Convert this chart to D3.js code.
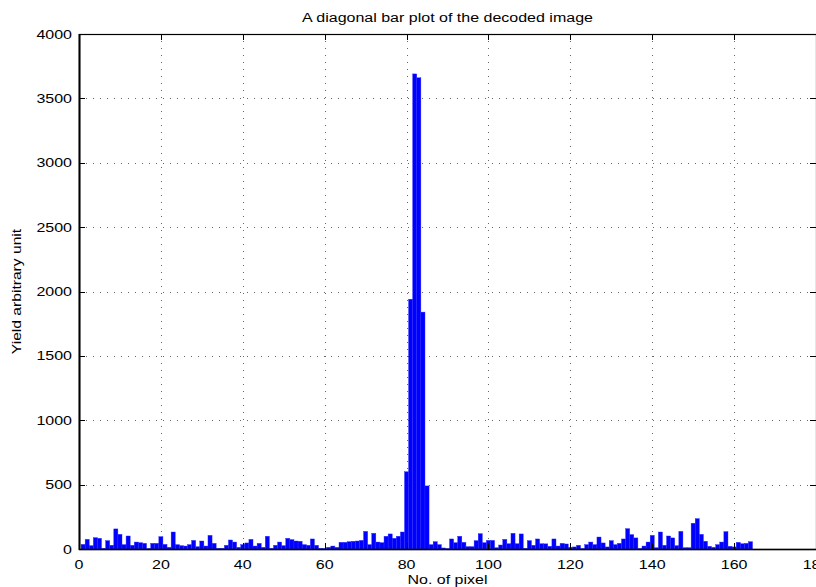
<!DOCTYPE html>
<html>
<head>
<meta charset="utf-8">
<script src="https://cdn.jsdelivr.net/npm/d3@7"></script>
<style>
  html, body { margin: 0; padding: 0; background: #fff; }
  svg { display: block; }
  text { font-family: "Liberation Sans", Arial, Helvetica, sans-serif; fill: #000; }
</style>
</head>
<body>
<svg id="chart" width="816" height="587"></svg>
<script>
// ---- data ----
const titleText = "A diagonal bar plot of the decoded image";
const xLabelText = "No. of pixel";
const yLabelText = "Yield arbitrary unit";
const xTicks = [0, 20, 40, 60, 80, 100, 120, 140, 160, 180];
const yTicks = [0, 500, 1000, 1500, 2000, 2500, 3000, 3500, 4000];
const yields = [
  36, 75, 26, 88, 83, 5, 65, 29, 156, 114,
  34, 101, 29, 54, 49, 44, 3, 44, 44, 96,
  36, 13, 132, 34, 26, 23, 34, 67, 18, 62,
  23, 106, 44, 5, 5, 29, 70, 54, 13, 34,
  47, 75, 23, 44, 13, 99, 5, 29, 54, 26,
  83, 73, 62, 60, 34, 29, 78, 29, 5, 3,
  13, 23, 13, 52, 52, 57, 60, 62, 67, 137,
  34, 122, 54, 49, 99, 117, 83, 99, 132, 600,
  1940, 3690, 3660, 1840, 490, 34, 57, 34, 8, 2,
  78, 49, 99, 52, 18, 18, 65, 119, 49, 67,
  67, 10, 31, 75, 41, 122, 41, 117, 5, 65,
  29, 78, 41, 40, 21, 78, 23, 44, 39, 13,
  16, 29, 3, 34, 54, 34, 93, 47, 16, 65,
  34, 44, 78, 158, 112, 86, 3, 23, 54, 106,
  10, 132, 29, 101, 86, 26, 137, 10, 10, 200,
  236, 114, 60, 21, 13, 34, 54, 135, 21, 16,
  52, 41, 44, 57
];
const pixels = yields.map((v, i) => i + 1);

// ---- layout ----
const svg = d3.select("#chart");
const L = 79, R = 816, T = 34, B = 549;
const x = d3.scaleLinear().domain([0, 180]).range([L, R]);
const y = d3.scaleLinear().domain([0, 4000]).range([B, T]);
const stretch = 1.28;

function stretchText(sel, k) {
  sel.each(function () {
    const len = this.getComputedTextLength();
    d3.select(this).attr("textLength", len * (k || stretch)).attr("lengthAdjust", "spacingAndGlyphs");
  });
}

// grid
const grid = svg.append("g").attr("stroke", "#666").attr("stroke-width", 1)
  .attr("stroke-dasharray", "1,6").attr("fill", "none");
grid.selectAll("line.v").data(xTicks.filter(t => t > 0 && t < 180)).join("line")
  .attr("x1", d => Math.round(x(d)) + 0.5).attr("x2", d => Math.round(x(d)) + 0.5)
  .attr("y1", T).attr("y2", B);
grid.selectAll("line.h").data(yTicks.filter(t => t > 0 && t < 4000)).join("line")
  .attr("class", "h")
  .attr("x1", L).attr("x2", R)
  .attr("y1", d => Math.round(y(d)) + 0.5).attr("y2", d => Math.round(y(d)) + 0.5);

// bars
svg.append("g").selectAll("rect").data(pixels).join("rect")
  .attr("x", (d) => x(d - 0.5))
  .attr("width", (d) => x(d + 0.5) - x(d - 0.5))
  .attr("y", (d, i) => y(yields[i]))
  .attr("height", (d, i) => y(0) - y(yields[i]))
  .attr("fill", "#0000ff")
  .attr("stroke", "#2a2aff").attr("stroke-width", 0.4);

// axes box + ticks
const ax = svg.append("g").attr("stroke", "#000").attr("fill", "none");
ax.append("rect").attr("x", L + 0.5).attr("y", T + 0.5).attr("width", R - L).attr("height", B - T)
  .attr("stroke-width", 1.2);
ax.append("line").attr("x1", L + 0.5).attr("x2", L + 0.5).attr("y1", T).attr("y2", B + 1).attr("stroke-width", 2);
ax.append("line").attr("x1", L).attr("x2", R).attr("y1", B + 0.5).attr("y2", B + 0.5).attr("stroke-width", 1.6);
const tk = 6;
xTicks.forEach(t => {
  const xx = Math.round(x(t)) + 0.5;
  ax.append("line").attr("x1", xx).attr("x2", xx).attr("y1", B).attr("y2", B - tk);
  ax.append("line").attr("x1", xx).attr("x2", xx).attr("y1", T).attr("y2", T + tk);
});
yTicks.forEach(t => {
  const yy = Math.round(y(t)) + 0.5;
  ax.append("line").attr("x1", L).attr("x2", L + tk).attr("y1", yy).attr("y2", yy);
  ax.append("line").attr("x1", R).attr("x2", R - tk).attr("y1", yy).attr("y2", yy);
});

// tick labels
svg.append("g").selectAll("text").data(xTicks).join("text")
  .attr("x", d => x(d)).attr("y", 569)
  .attr("text-anchor", "middle").attr("font-size", 12.5)
  .text(d => d).call(stretchText);
svg.append("g").selectAll("text").data(yTicks).join("text")
  .attr("x", 72).attr("y", d => y(d) + 4.5)
  .attr("text-anchor", "end").attr("font-size", 12.5)
  .text(d => d).call(stretchText);

// title & labels
svg.append("text").attr("x", (L + R) / 2).attr("y", 22)
  .attr("text-anchor", "middle").attr("font-size", 12.5)
  .text(titleText).call(stretchText);
svg.append("text").attr("x", (L + R) / 2).attr("y", 584)
  .attr("text-anchor", "middle").attr("font-size", 12.5)
  .text(xLabelText).call(stretchText);
svg.append("text")
  .attr("transform", `translate(21,${(T + B) / 2}) rotate(-90)`)
  .attr("text-anchor", "middle").attr("font-size", 12.5)
  .text(yLabelText).call(stretchText, 1.25);
</script>
</body>
</html>
